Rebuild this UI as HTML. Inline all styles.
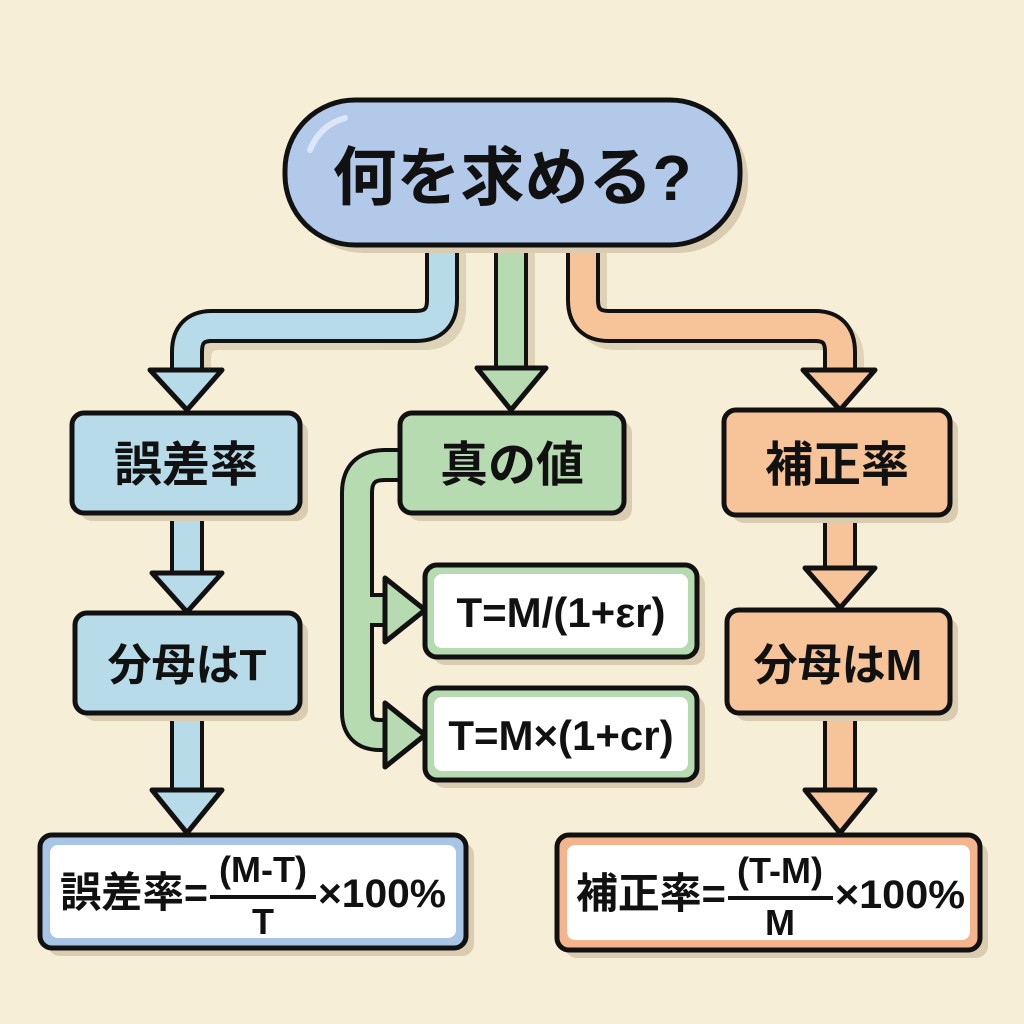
<!DOCTYPE html>
<html><head><meta charset="utf-8"><style>
html,body{margin:0;padding:0;background:#f7eed8;}
svg{display:block}
text{font-family:"Liberation Sans","Noto Sans CJK JP",sans-serif;font-weight:bold;fill:#111;}
</style></head><body>
<svg width="1024" height="1024" viewBox="0 0 1024 1024" xmlns="http://www.w3.org/2000/svg">
<rect width="1024" height="1024" fill="#f7eed8"/>
<g fill="none" stroke-linejoin="round">
<g stroke="#d9ccb0" stroke-width="32" opacity="0.8" transform="translate(8,8)">
<path d="M442,245 V300 Q442,326 416,326 H212 Q187,326 187,352 V372"/>
<path d="M511,245 V365"/>
<path d="M583,245 V300 Q583,326 609,326 H815 Q840,326 840,352 V372"/>
</g>
<path d="M442,240 V300 Q442,326 416,326 H212 Q187,326 187,352 V372" stroke="#111" stroke-width="34"/>
<path d="M442,238 V300 Q442,326 416,326 H212 Q187,326 187,352 V375" stroke="#b8dbe9" stroke-width="26"/>
<path d="M511,240 V368" stroke="#111" stroke-width="34"/>
<path d="M511,238 V372" stroke="#b7dbb1" stroke-width="26"/>
<path d="M583,240 V300 Q583,326 609,326 H815 Q840,326 840,352 V372" stroke="#111" stroke-width="34"/>
<path d="M583,238 V300 Q583,326 609,326 H815 Q840,326 840,352 V375" stroke="#f7c398" stroke-width="26"/>
<path d="M187,505 V575 M187,705 V790" stroke="#111" stroke-width="34"/>
<path d="M187,505 V578 M187,705 V793" stroke="#b8dbe9" stroke-width="26"/>
<path d="M840,505 V570 M840,705 V790" stroke="#111" stroke-width="34"/>
<path d="M840,505 V573 M840,705 V793" stroke="#f7c398" stroke-width="26"/>
<path d="M410,465 H385 Q357,465 357,493 V712 Q357,735 380,735 H392 M357,610 H392" stroke="#111" stroke-width="34"/>
<path d="M412,465 H385 Q357,465 357,493 V712 Q357,735 380,735 H395 M357,610 H395" stroke="#b7dbb1" stroke-width="26"/>
</g>
<g stroke="#111" stroke-width="5" stroke-linejoin="round">
<polygon points="150,370 222,370 187,410" fill="#b8dbe9"/>
<polygon points="477,368 546,368 511,410" fill="#b7dbb1"/>
<polygon points="803,370 875,370 840,410" fill="#f7c398"/>
<polygon points="152,573 222,573 187,612" fill="#b8dbe9"/>
<polygon points="152,790 222,790 187,833" fill="#b8dbe9"/>
<polygon points="805,568 875,568 840,608" fill="#f7c398"/>
<polygon points="805,790 875,790 840,833" fill="#f7c398"/>
<polygon points="385,578 385,642 425,610" fill="#b7dbb1"/>
<polygon points="385,703 385,767 425,735" fill="#b7dbb1"/>
</g>
<g fill="#d9ccb0">
<rect x="293" y="108" width="455" height="145" rx="70"/>
<rect x="80" y="421" width="228" height="100" rx="12"/>
<rect x="83" y="621" width="225" height="100" rx="12"/>
<rect x="48" y="843" width="426" height="113" rx="12"/>
<rect x="408" y="421" width="224" height="100" rx="12"/>
<rect x="433" y="573" width="272" height="92" rx="12"/>
<rect x="433" y="696" width="272" height="92" rx="12"/>
<rect x="732" y="418" width="226" height="105" rx="12"/>
<rect x="735" y="618" width="223" height="103" rx="12"/>
<rect x="565" y="843" width="423" height="115" rx="12"/>
</g>
<g stroke="#111" stroke-width="5">
<rect x="285" y="100" width="455" height="145" rx="70" fill="#b3c9ea"/>
<rect x="72" y="413" width="228" height="100" rx="12" fill="#b8dbe9"/>
<rect x="75" y="613" width="225" height="100" rx="12" fill="#b8dbe9"/>
<rect x="40" y="835" width="426" height="113" rx="12" fill="#a8c5e6"/>
<rect x="400" y="413" width="224" height="100" rx="12" fill="#b7dbb1"/>
<rect x="425" y="565" width="272" height="92" rx="12" fill="#b7dbb1"/>
<rect x="425" y="688" width="272" height="92" rx="12" fill="#b7dbb1"/>
<rect x="724" y="410" width="226" height="105" rx="12" fill="#f7c398"/>
<rect x="727" y="610" width="223" height="103" rx="12" fill="#f7c398"/>
<rect x="557" y="835" width="423" height="115" rx="12" fill="#f3b48e"/>
</g>
<g fill="#fff">
<rect x="50" y="845" width="406" height="93" rx="8"/>
<rect x="567" y="845" width="403" height="95" rx="8"/>
<rect x="434" y="574" width="254" height="74" rx="8"/>
<rect x="434" y="697" width="254" height="74" rx="8"/>
</g>
<path d="M310,150 Q320,125 345,118" stroke="#dbe6f7" stroke-width="6" fill="none" stroke-linecap="round"/>
<text x="512" y="200" font-size="64" text-anchor="middle">何を求める?</text>
<text x="186" y="481" font-size="48" text-anchor="middle">誤差率</text>
<text x="187" y="680" font-size="44" text-anchor="middle">分母はT</text>
<text x="512" y="481" font-size="48" text-anchor="middle">真の値</text>
<text x="561" y="627" font-size="42" text-anchor="middle">T=M/(1+εr)</text>
<text x="561" y="750" font-size="42" text-anchor="middle">T=M×(1+cr)</text>
<text x="837" y="481" font-size="48" text-anchor="middle">補正率</text>
<text x="838" y="680" font-size="44" text-anchor="middle">分母はM</text>
<text x="60" y="907" font-size="42" textLength="148" lengthAdjust="spacingAndGlyphs">誤差率=</text>
<text x="263" y="882" font-size="36" text-anchor="middle">(M-T)</text>
<rect x="210" y="895" width="106" height="4" fill="#111"/>
<text x="263" y="934" font-size="36" text-anchor="middle">T</text>
<text x="318" y="907" font-size="40" textLength="128" lengthAdjust="spacingAndGlyphs">×100%</text>
<text x="576" y="908" font-size="42" textLength="150" lengthAdjust="spacingAndGlyphs">補正率=</text>
<text x="780" y="883" font-size="36" text-anchor="middle">(T-M)</text>
<rect x="728" y="896" width="105" height="4" fill="#111"/>
<text x="780" y="935" font-size="36" text-anchor="middle">M</text>
<text x="835" y="908" font-size="40" textLength="130" lengthAdjust="spacingAndGlyphs">×100%</text>
</svg>
</body></html>
